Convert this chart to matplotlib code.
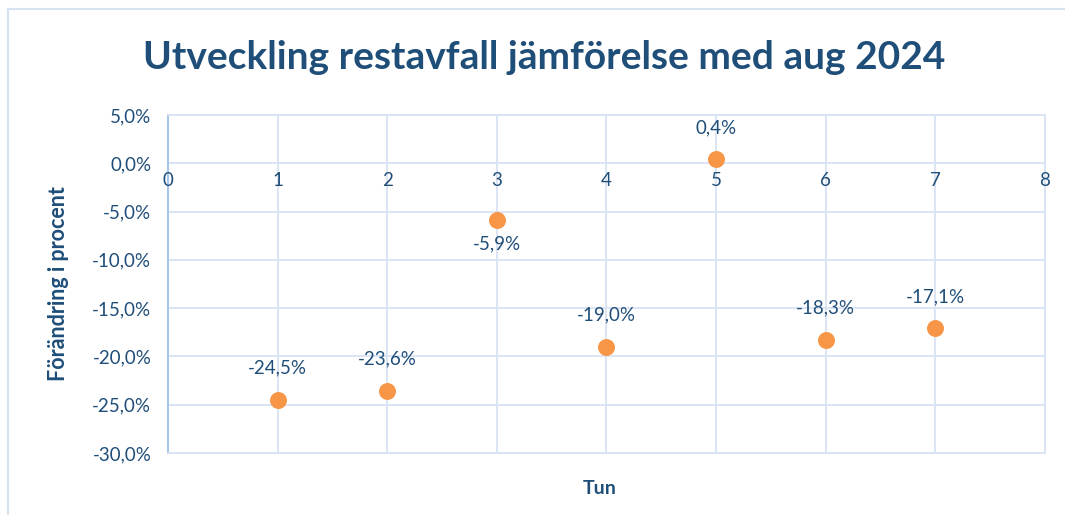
import matplotlib.pyplot as plt
from matplotlib.patches import Rectangle
from matplotlib.ticker import FuncFormatter, MultipleLocator

plt.rcParams['font.family'] = ['Lato', 'DejaVu Sans']

# data
weeks = [1, 2, 3, 4, 5, 6, 7]
change = [-24.5, -23.6, -5.9, -19.0, 0.4, -18.3, -17.1]
label_below = [False, False, True, False, False, False, False]

txt_col = "#1F4E79"
grid_col = "#D9E3F3"
dot_col = "#F79646"

fig = plt.figure(figsize=(10.65, 5.15), dpi=100)
ax = fig.add_axes([0.1577, 0.1204, 0.8235, 0.6563])

ax.scatter(weeks, change, s=125, color=dot_col, edgecolors="#F79646", zorder=3)

for x, y, below in zip(weeks, change, label_below):
    lab = f"{y:.1f}%".replace(".", ",")
    if below:
        ax.annotate(lab, (x, y), xytext=(0, -17), textcoords="offset points",
                    ha="center", va="center", fontsize=13.5, color=txt_col)
    else:
        ax.annotate(lab, (x, y), xytext=(0, 23), textcoords="offset points",
                    ha="center", va="center", fontsize=13.5, color=txt_col)

ax.set_xlim(0, 8)
ax.set_ylim(-30, 5)
ax.xaxis.set_major_locator(MultipleLocator(1))
ax.yaxis.set_major_locator(MultipleLocator(5))
ax.yaxis.set_major_formatter(FuncFormatter(lambda v, p: f"{v:.1f}%".replace(".", ",")))

ax.grid(True, color=grid_col, linewidth=1.3)
ax.set_axisbelow(True)
for s in ["top", "right", "bottom"]:
    ax.spines[s].set_color(grid_col)
    ax.spines[s].set_linewidth(1.3)
ax.spines["left"].set_color("#A9C6EA")
ax.spines["left"].set_linewidth(1.5)

ax.tick_params(length=0, labelsize=13.5, labelcolor=txt_col)
ax.tick_params(axis="y", pad=12)
# x tick labels sit just under the zero line
ax.xaxis.set_tick_params(labelbottom=False)
for x in range(0, 9):
    ax.text(x, -0.9, str(x), ha="center", va="top", fontsize=13.5, color=txt_col)

fig.text(0.511, 0.889, "Utveckling restavfall jämförelse med aug 2024", ha="center",
         va="center", fontsize=28, fontweight="bold", color=txt_col)
fig.text(0.0545, 0.4485, "Förändring i procent", rotation=90, ha="center", va="center",
         fontsize=15.5, fontweight="bold", color=txt_col)
fig.text(0.5634, 0.052, "Tun", ha="center", va="center", fontsize=14,
         fontweight="bold", color=txt_col)

fig.patches.append(Rectangle((8 / 1065, -0.1), 1.1, 1 - 9 / 515 + 0.1,
                             transform=fig.transFigure, fill=False,
                             edgecolor="#D6E2F2", linewidth=1.5))

fig.savefig("out.png", dpi=100)
